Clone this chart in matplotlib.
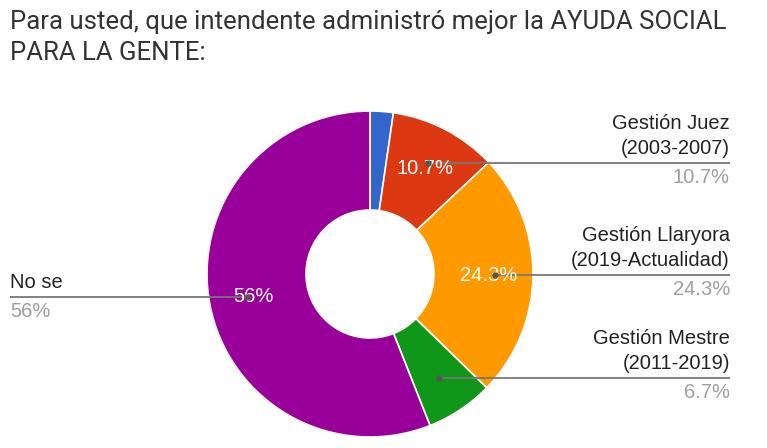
import numpy as np
import matplotlib
matplotlib.use('Agg')
import matplotlib.pyplot as plt

# Datos del gráfico
etiquetas = ['Otro', 'Gestión Juez\n(2003-2007)', 'Gestión Llaryora\n(2019-Actualidad)',
             'Gestión Mestre\n(2011-2019)', 'No se']
valores = [2.3, 10.7, 24.3, 6.7, 56.0]
textos_pct = ['2.3%', '10.7%', '24.3%', '6.7%', '56%']
colores = ['#3366cc', '#dc3912', '#ff9900', '#109618', '#990099']
mostrar_rotulo = [False, True, True, True, True]
mostrar_pct = [False, True, True, False, True]

titulo = 'Para usted, que intendente administró mejor la AYUDA SOCIAL\nPARA LA GENTE:'

W, H = 767, 448
fig = plt.figure(figsize=(W / 100, H / 100), dpi=100)
ax = fig.add_axes([0, 0, 1, 1])

cx, cy = 370, H - 274   # centro de la dona (coordenadas en píxeles)
R = 163
r_int = 64

ax.pie(valores, colors=colores, startangle=90, counterclock=False, radius=R,
       center=(cx, cy), wedgeprops=dict(width=R - r_int, edgecolor='white', linewidth=1.2))

ax.set_xlim(0, W)
ax.set_ylim(0, H)
ax.set_aspect('auto')
ax.axis('off')

fuente = 'Liberation Sans'
total = sum(valores)
acum = 0
for i, v in enumerate(valores):
    theta = np.radians(360 * (acum + v / 2) / total)
    acum += v

    # Porcentaje dentro de la porción
    if mostrar_pct[i]:
        tx = cx + 119 * np.sin(theta)
        ty = cy + 119 * np.cos(theta)
        ax.text(tx, ty, textos_pct[i], color='white', fontsize=14.5, family=fuente,
                ha='center', va='center', zorder=4)

    if not mostrar_rotulo[i]:
        continue

    # Línea guía horizontal desde el punto en la porción
    dx = cx + 125 * np.sin(theta)
    dy = cy + 125 * np.cos(theta)
    derecha = np.sin(theta) > 0
    x_fin = 730 if derecha else 10
    ax.plot([dx, x_fin], [dy, dy], color='#777777', lw=1.3, zorder=3, solid_capstyle='butt')
    ax.plot(dx, dy, 'o', color='#555555', ms=3.5, zorder=5)

    ha = 'right' if derecha else 'left'
    ax.text(x_fin, dy + 5, etiquetas[i], color='#222222', fontsize=14.5, family=fuente,
            ha=ha, va='bottom', linespacing=1.4)
    ax.text(x_fin, dy - 5, textos_pct[i], color='#9e9e9e', fontsize=14.5, family=fuente,
            ha=ha, va='top')

# Título
fig.text(10 / W, 1 - 10 / H, titulo, color='#333333', fontsize=18.5, family='Roboto',
         ha='left', va='top', linespacing=1.38)

fig.savefig('out.png', dpi=100, facecolor='white')
